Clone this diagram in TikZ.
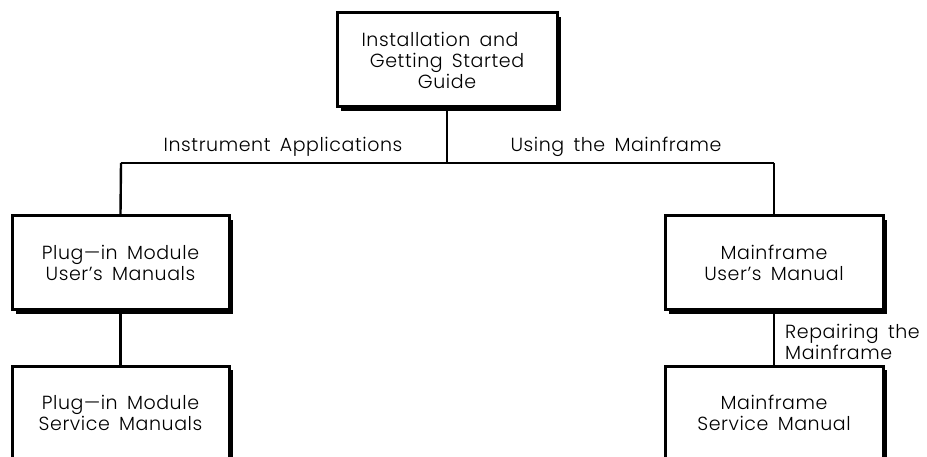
\documentclass[tikz,border=0pt]{standalone}
\usepackage{fontspec}
\setmainfont{Poppins}[UprightFont={* Light}, WordSpace=1.6, LetterSpace=3]
\usetikzlibrary{shadows}
\begin{document}
\begin{tikzpicture}[x=1pt,y=-1pt,
  box/.style={draw=black, line width=3pt, fill=white, rectangle,
    minimum width=#1, minimum height=94pt, inner sep=0pt, align=center,
    drop shadow={shadow xshift=4pt, shadow yshift=-4pt, fill=black, opacity=1}},
  box/.default=218pt,
  conn/.style={line width=2.4pt},
  lbl/.style={inner sep=0pt},
  every node/.style={font=\fontsize{19}{21}\selectfont}]
\useasboundingbox (0,0) rectangle (927,457);
\clip (0,0) rectangle (927,457);
\node[box=220pt] (top) at (447,60) {Installation and\hspace*{14pt}\\Getting Started\\Guide};
\coordinate (j) at (447,163);
\coordinate (jl) at (121,163);
\coordinate (jr) at (774,163);
\node[box=217pt] (pum) at (120.5,263) {Plug\textemdash in Module\\User's Manuals};
\node[box=218pt] (mum) at (774,263) {Mainframe\\User's Manual};
\node[box=217pt] (psm) at (120.5,413) {Plug\textemdash in Module\\Service Manuals};
\node[box=218pt] (msm) at (774,413) {Mainframe\\Service Manual};
\draw[conn] (top) -- (j);
\draw[conn] (jl) -- (jr);
\draw[conn] (jl) -- (pum.north);
\draw[conn] (jr) -- (mum.north);
\draw[conn] (pum) -- (psm);
\draw[conn] (mum) -- (msm);
\node[lbl] (la) at (283,147) {Instrument Applications};
\node[lbl] (lb) at (616,147) {Using the Mainframe};
\node[lbl, anchor=west, align=left] (lc) at (785,341.5) {Repairing the\\Mainframe};
\end{tikzpicture}
\end{document}
